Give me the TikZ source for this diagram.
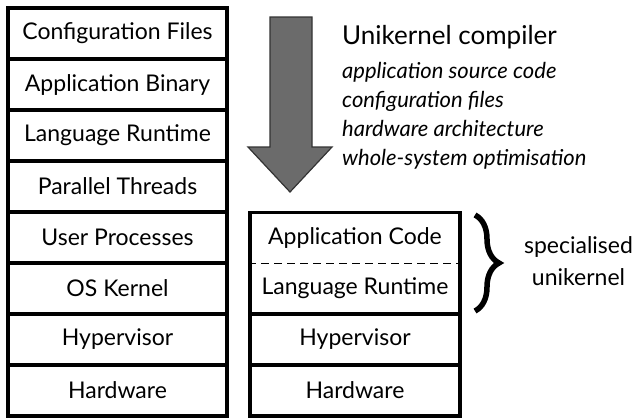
\documentclass[tikz,border=0pt]{standalone}
\usepackage{fontspec}
\setmainfont{Lato}
\usetikzlibrary{decorations.pathreplacing}
\tikzset{
  layer/.style={draw, line width=3.2pt, inner sep=0pt, minimum height=51pt, font=\fontsize{23}{26}\selectfont},
  leftlayer/.style={layer, minimum width=219pt},
  rightlayer/.style={layer, minimum width=210pt},
  plain/.style={inner sep=0pt, font=\fontsize{23}{26}\selectfont},
  ital/.style={inner sep=0pt, anchor=base west, font=\fontsize{22}{25}\selectfont\itshape},
}
\begin{document}
\begin{tikzpicture}[x=1pt,y=-1pt]
\useasboundingbox (0,0) rectangle (641,418);
% left stack
\node[leftlayer] (cf) at (117.5,33.5) {Configuration Files};
\node[leftlayer] (ab) at (117.5,84.5) {Application Binary};
\node[leftlayer] (lr) at (117.5,135.5) {Language Runtime};
\node[leftlayer] (pt) at (117.5,186.5) {Parallel Threads};
\node[leftlayer] (up) at (117.5,237.5) {User Processes};
\node[leftlayer] (ok) at (117.5,288.5) {OS Kernel};
\node[leftlayer] (hv) at (117.5,339.5) {Hypervisor};
\node[leftlayer] (hw) at (117.5,390.5) {Hardware};
% right stack
\node[rightlayer, minimum height=102pt] (uni) at (355,263.5) {};
\node[plain] (ac) at (355,237.5) {Application Code};
\node[plain] (rt) at (355,288.5) {Language Runtime};
\draw[dashed, line width=1.5pt, dash pattern=on 8pt off 5pt] (uni.west) -- (uni.east);
\node[rightlayer] (rhv) at (355,339.5) {Hypervisor};
\node[rightlayer] (rhw) at (355,390.5) {Hardware};
% arrow
\draw[line width=1.2pt, draw=black!80, fill=black!58]
  (270,17) -- (312,17) -- (312,147) -- (332,147) -- (290,192) -- (248,147) -- (270,147) -- cycle;
% compiler text
\node[inner sep=0pt, anchor=base west, font=\fontsize{26}{30}\selectfont] (uc) at (342,44) {Unikernel compiler};
\node[ital] (t1) at (342,78) {application source code};
\node[ital] (t2) at (342,107) {configuration files};
\node[ital] (t3) at (342,136) {hardware architecture};
\node[ital] (t4) at (342,165) {whole-system optimisation};
% brace
\coordinate (b1) at (475,215);
\coordinate (b2) at (475,311);
\draw[decorate, decoration={brace, amplitude=24pt}, line width=5.5pt] (b1) -- (b2);
\node[plain, anchor=base] (sp) at (578.5,253) {specialised};
\node[plain, anchor=base] (uk) at (578.5,285) {unikernel};
\end{tikzpicture}
\end{document}
